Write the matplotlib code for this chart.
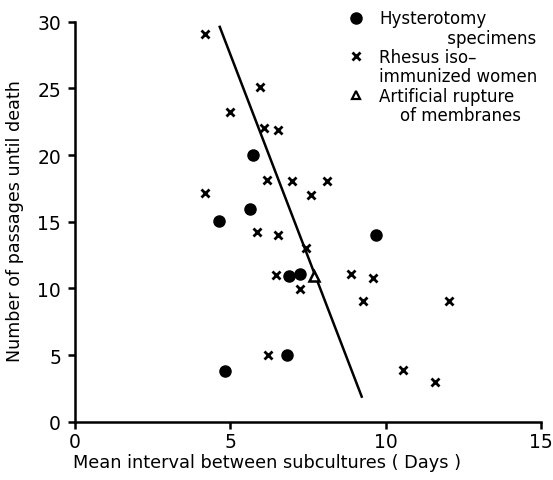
import matplotlib
matplotlib.use("Agg")
import matplotlib.pyplot as plt
from matplotlib.lines import Line2D

# Data
hyst_x = [5.72, 5.63, 4.63, 9.68, 6.88, 7.23, 6.82, 4.82]
hyst_y = [20.0, 15.95, 15.05, 14.0, 10.9, 11.1, 5.0, 3.8]

rhesus_x = [4.18, 5.95, 4.98, 6.08, 6.53, 6.17, 6.98, 8.10, 4.18, 7.59,
            5.85, 6.53, 7.43, 6.46, 7.23, 8.90, 9.58, 9.26, 6.20, 10.55,
            12.03, 11.58]
rhesus_y = [29.1, 25.1, 23.2, 22.0, 21.9, 18.1, 18.05, 18.05, 17.15, 17.0,
            14.2, 14.0, 13.0, 11.0, 9.96, 11.1, 10.8, 9.1, 5.0, 3.9,
            9.1, 3.0]

arm_x = [7.68]
arm_y = [10.9]

fit_x = [4.66, 9.23]
fit_y = [29.6, 1.9]

x_ticks = [0, 5, 10, 15]
y_ticks = [0, 5, 10, 15, 20, 25, 30]
x_label = "Mean interval between subcultures ( Days )"
y_label = "Number of passages until death"
legend_lines = ["Hysterotomy", "             specimens",
                "Rhesus iso\u2013", "immunized women",
                "Artificial rupture", "    of membranes"]

plt.rcParams['font.family'] = ['DejaVu Sans']

fig = plt.figure(figsize=(5.53, 4.81), dpi=100)
ax = fig.add_axes([0.1356, 0.1206, 0.8426, 0.8326])

ax.plot(fit_x, fit_y, color='black', lw=1.8, zorder=2)
ax.plot(hyst_x, hyst_y, linestyle='none', marker='o', ms=8,
        color='black', zorder=3)
ax.plot(rhesus_x, rhesus_y, linestyle='none', marker='x', ms=6, mew=2,
        color='black', zorder=3)
ax.plot(arm_x, arm_y, linestyle='none', marker='^', ms=7, mew=1.8,
        mfc='white', mec='black', zorder=3)

ax.set_xlim(0, 15)
ax.set_ylim(0, 30)
ax.set_xticks(x_ticks)
ax.set_yticks(y_ticks)
ax.set_xticklabels([str(v) for v in x_ticks])
ax.set_yticklabels([str(v) for v in y_ticks])
ax.tick_params(direction='out', length=5, width=1.8, labelsize=13.5,
               colors='black')
ax.tick_params(axis='x', pad=2)
ax.tick_params(axis='y', pad=5)
for s in ['top', 'right']:
    ax.spines[s].set_visible(False)
for s in ['left', 'bottom']:
    ax.spines[s].set_linewidth(1.8)

ax.set_xlabel(x_label, fontsize=12.8)
ax.xaxis.set_label_coords(-0.005, -0.078)
ax.xaxis.label.set_horizontalalignment('left')
ax.xaxis.label.set_verticalalignment('top')
ax.set_ylabel(y_label, fontsize=12.6)
ax.yaxis.set_label_coords(-0.11, 0.505)

blank = Line2D([], [], linestyle='none')
handles = [
    Line2D([], [], linestyle='none', marker='o', ms=8, color='black'),
    blank,
    Line2D([], [], linestyle='none', marker='x', ms=6, mew=2, color='black'),
    blank,
    Line2D([], [], linestyle='none', marker='^', ms=6, mew=1.6,
           mfc='white', mec='black'),
    blank,
]
leg = ax.legend(handles, legend_lines, loc='upper left',
                bbox_to_anchor=(0.571, 1.047), frameon=False, fontsize=12,
                handlelength=1.0, handletextpad=0.9, labelspacing=0.08,
                borderaxespad=0)

fig.savefig("out.png", dpi=100)
